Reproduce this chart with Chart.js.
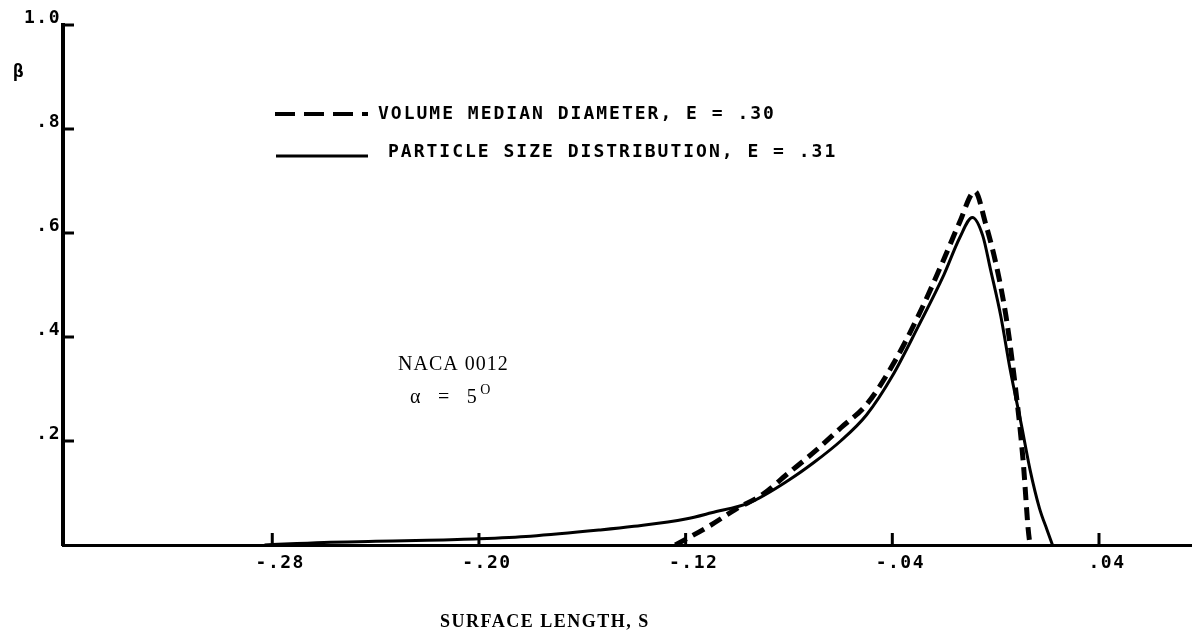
<!DOCTYPE html>
<html><head><meta charset="utf-8">
<script src="https://cdn.jsdelivr.net/npm/chart.js@4.4.1/dist/chart.umd.min.js"></script>
<style>html,body{margin:0;padding:0;background:#fff;}#wrap{width:1192px;height:635px;position:relative;}</style>
</head><body><div id="wrap"><canvas id="c"></canvas></div>
<script>
// ---- data ----
const xTicks = [-0.28, -0.20, -0.12, -0.04, 0.04];
const xTickLabels = ['-.28', '-.20', '-.12', '-.04', '.04'];
const yTicks = [0.2, 0.4, 0.6, 0.8, 1.0];
const yTickLabels = ['.2', '.4', '.6', '.8', '1.0'];

const seriesNames = ['VOLUME MEDIAN DIAMETER, E = .30', 'PARTICLE SIZE DISTRIBUTION, E = .31'];

// volume median diameter (dashed)
const vmdX = [-0.124, -0.111, -0.1005, -0.09, -0.081, -0.07, -0.06, -0.05, -0.04, -0.03, -0.02, -0.014, -0.008, -0.004, 0.0006, 0.004, 0.0068, 0.0106, 0.0126, 0.0133];
const vmdY = [0, 0.036, 0.069, 0.098, 0.135, 0.18, 0.225, 0.27, 0.345, 0.44, 0.55, 0.62, 0.68, 0.62, 0.53, 0.44, 0.338, 0.164, 0.03, 0];

// particle size distribution (solid)
const psdX = [-0.283, -0.26, -0.24, -0.22, -0.20, -0.18, -0.153, -0.14, -0.12, -0.11, -0.095, -0.08, -0.07, -0.06, -0.05, -0.04, -0.03, -0.02, -0.014, -0.009, -0.005, -0.002, 0.002, 0.0056, 0.01, 0.0133, 0.017, 0.0199, 0.022];
const psdY = [0, 0.005, 0.007, 0.009, 0.012, 0.017, 0.029, 0.036, 0.05, 0.062, 0.082, 0.125, 0.16, 0.20, 0.25, 0.325, 0.42, 0.52, 0.59, 0.63, 0.595, 0.53, 0.44, 0.338, 0.23, 0.145, 0.07, 0.029, 0];

const annotations = [
  {text: 'NACA 0012', x: 398, y: 365, spacing: '1px'},
  {text: 'α  =  5', x: 410, y: 398, sup: 'O', spacing: '2.5px'}
];

const toPts = (xs, ys) => xs.map((x, i) => ({x: x, y: ys[i]}));

const MONO_FAM = '"DejaVu Sans Mono", "Liberation Mono", monospace';
const SERIF_FAM = '"Liberation Serif", "DejaVu Serif", serif';

const overlay = {
  id: 'overlay',
  beforeDraw(chart) { chart.ctx.letterSpacing = '1.5px'; },
  afterDraw(chart) {
    const ctx = chart.ctx, ca = chart.chartArea;
    const xs = chart.scales.x, ys = chart.scales.y;
    ctx.save();
    ctx.strokeStyle = '#000';
    ctx.lineWidth = 3;
    // inward tick marks
    yTicks.forEach(v => {
      const p = ys.getPixelForValue(v);
      ctx.beginPath(); ctx.moveTo(ca.left, p); ctx.lineTo(ca.left + 11, p); ctx.stroke();
    });
    xTicks.forEach(v => {
      const p = xs.getPixelForValue(v);
      ctx.beginPath(); ctx.moveTo(p, ca.bottom); ctx.lineTo(p, ca.bottom - 12); ctx.stroke();
    });
    // beta label
    ctx.fillStyle = '#000';
    ctx.letterSpacing = '0px';
    ctx.font = 'bold 18px ' + MONO_FAM;
    ctx.textAlign = 'left'; ctx.textBaseline = 'middle';
    ctx.fillText('β', 13, 72);
    // legend
    const ds = chart.data.datasets;
    const legY = [114, 152];
    const lineY = [114, 156];
    const legX0 = [275, 276];
    const textX = [378, 388];
    ds.forEach((d, i) => {
      ctx.save();
      ctx.lineWidth = i === 0 ? 4 : 3;
      ctx.setLineDash(i === 0 ? [20, 9] : []);
      ctx.beginPath(); ctx.moveTo(legX0[i], lineY[i]); ctx.lineTo(368, lineY[i]); ctx.stroke();
      ctx.restore();
      ctx.font = 'bold 18px ' + MONO_FAM;
      ctx.letterSpacing = '2px';
      ctx.textAlign = 'left';
      ctx.fillText(d.label, textX[i], legY[i]);
    });
    // annotations
    annotations.forEach(a => {
      ctx.letterSpacing = a.spacing;
      ctx.font = '20px ' + SERIF_FAM;
      ctx.fillText(a.text, a.x, a.y);
      if (a.sup) {
        const w = ctx.measureText(a.text).width;
        ctx.letterSpacing = '0px';
        ctx.font = '14px ' + SERIF_FAM;
        ctx.fillText(a.sup, a.x + w + 1, a.y - 8);
      }
    });
    // x axis title
    ctx.font = 'bold 18px ' + SERIF_FAM;
    ctx.letterSpacing = '1.5px';
    ctx.fillText('SURFACE LENGTH, S', 440, 622);
    ctx.restore();
  }
};

new Chart(document.getElementById('c'), {
  type: 'scatter',
  data: {
    datasets: [
      {label: seriesNames[0], data: toPts(vmdX, vmdY), showLine: true, borderColor: '#000', borderWidth: 5,
       borderDash: [13, 7], pointRadius: 0, cubicInterpolationMode: 'monotone', fill: false},
      {label: seriesNames[1], data: toPts(psdX, psdY), showLine: true, borderColor: '#000', borderWidth: 3,
       pointRadius: 0, cubicInterpolationMode: 'monotone', fill: false}
    ]
  },
  options: {
    responsive: true, maintainAspectRatio: false, animation: false,
    layout: {padding: {top: 25, right: 0, left: 0, bottom: 0}},
    plugins: {legend: {display: false}, tooltip: {enabled: false}},
    scales: {
      x: {
        type: 'linear', min: -0.361, max: 0.076,
        afterBuildTicks: s => { s.ticks = xTicks.map(v => ({value: v})); },
        afterFit: s => { s.height = 90; },
        grid: {display: false, drawTicks: false},
        border: {display: true, color: '#000', width: 3},
        ticks: {
          color: '#000', font: {family: MONO_FAM, size: 18, weight: 'bold'},
          padding: 8, labelOffset: 8, maxRotation: 0, autoSkip: false,
          callback: (v, i) => xTickLabels[i]
        }
      },
      y: {
        type: 'linear', min: 0, max: 1.0,
        afterBuildTicks: s => { s.ticks = yTicks.map(v => ({value: v})); },
        afterFit: s => { s.width = 63; },
        grid: {display: false, drawTicks: false},
        border: {display: true, color: '#000', width: 4},
        ticks: {
          color: '#000', font: {family: MONO_FAM, size: 18, weight: 'bold'},
          padding: 2, labelOffset: -7, autoSkip: false,
          callback: (v, i) => yTickLabels[i]
        }
      }
    }
  },
  plugins: [overlay]
});
</script></body></html>
